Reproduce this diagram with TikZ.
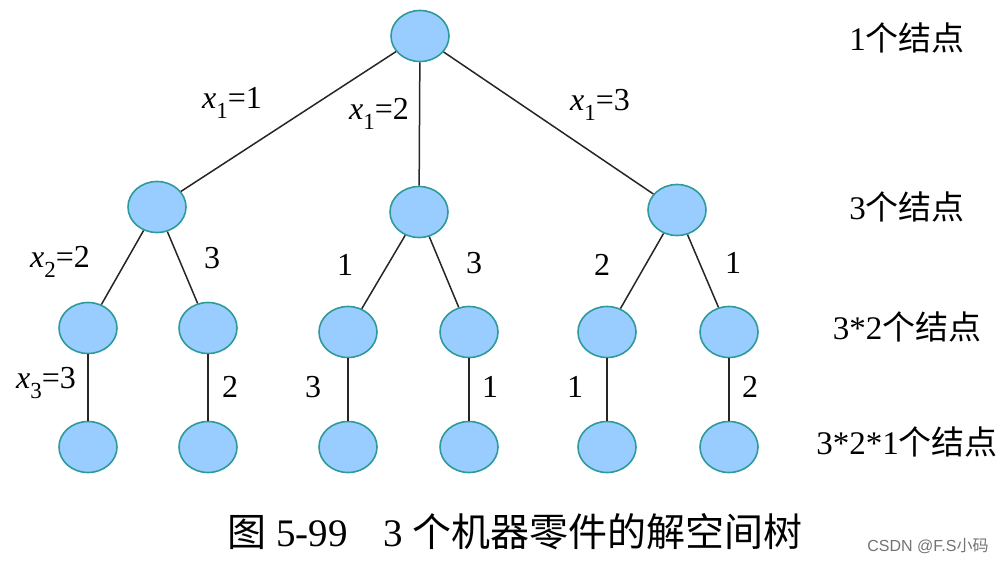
\documentclass[tikz,border=0pt]{standalone}
\usepackage{fontspec}
\setmainfont{Liberation Serif}
\newfontfamily\cjk{Noto Sans CJK SC}
\newfontfamily\wmfont{Liberation Sans}
\usetikzlibrary{shapes.geometric}
\newcommand{\xsub}[2]{\textit{x}\raisebox{-0.3em}{\fontsize{23}{23}\selectfont #1}#2}
\begin{document}
\begin{tikzpicture}[x=1pt,y=-1pt,
  tnode/.style={ellipse,line width=1.6pt,minimum width=58pt,minimum height=51pt,inner sep=0pt},
  edge/.style={draw=black!85,line width=1.5pt},
  lbl/.style={font=\fontsize{32}{34}\selectfont,inner sep=0pt},
  side/.style={font=\fontsize{33}{36}\selectfont,inner sep=0pt}]
\definecolor{nodefill}{HTML}{99CCFF}
\definecolor{nodeborder}{HTML}{2F9A9A}
\tikzset{tnode/.append style={fill=nodefill,draw=nodeborder}}
\useasboundingbox (0,0) rectangle (1008,562);
% nodes
\node[tnode] (r) at (420,36) {};
\node[tnode] (a) at (157,207) {};
\node[tnode] (b) at (419,212) {};
\node[tnode] (c) at (677,210) {};
\node[tnode] (a1) at (88,328) {};
\node[tnode] (a2) at (208,328) {};
\node[tnode] (b1) at (348,332) {};
\node[tnode] (b2) at (469,332) {};
\node[tnode] (c1) at (607,332) {};
\node[tnode] (c2) at (729,332) {};
\node[tnode] (a1x) at (88,447) {};
\node[tnode] (a2x) at (208,447) {};
\node[tnode] (b1x) at (348,447) {};
\node[tnode] (b2x) at (469,447) {};
\node[tnode] (c1x) at (607,447) {};
\node[tnode] (c2x) at (729,447) {};
% edges
\draw[edge] (r) -- (a);
\draw[edge] (r) -- (b);
\draw[edge] (r) -- (c);
\draw[edge] (a) -- (a1);
\draw[edge] (a) -- (a2);
\draw[edge] (b) -- (b1);
\draw[edge] (b) -- (b2);
\draw[edge] (c) -- (c1);
\draw[edge] (c) -- (c2);
\draw[edge] (a1) -- (a1x);
\draw[edge] (a2) -- (a2x);
\draw[edge] (b1) -- (b1x);
\draw[edge] (b2) -- (b2x);
\draw[edge] (c1) -- (c1x);
\draw[edge] (c2) -- (c2x);
% edge labels
\node[lbl] (l1) at (232,103) {\xsub{1}{=1}};
\node[lbl] (l2) at (379,114) {\xsub{1}{=2}};
\node[lbl] (l3) at (600,105) {\xsub{1}{=3}};
\node[lbl] (l4) at (60,262) {\xsub{2}{=2}};
\node[lbl] (l5) at (212,258) {3};
\node[lbl] (l6) at (345,265) {1};
\node[lbl] (l7) at (474,263) {3};
\node[lbl] (l8) at (602,265) {2};
\node[lbl] (l9) at (733,263) {1};
\node[lbl] (l10) at (46,383) {\xsub{3}{=3}};
\node[lbl] (l11) at (230,387) {2};
\node[lbl] (l12) at (313,387) {3};
\node[lbl] (l13) at (490,387) {1};
\node[lbl] (l14) at (575,387) {1};
\node[lbl] (l15) at (750,387) {2};
% side labels
\node[side] (s1) at (907,38) {1{\cjk 个结点}};
\node[side] (s2) at (907,207) {3{\cjk 个结点}};
\node[side] (s3) at (907,327) {3*2{\cjk 个结点}};
\node[side] (s4) at (907,442) {3*2*1{\cjk 个结点}};
% caption
\node[font=\fontsize{39}{42}\selectfont,inner sep=0pt] (cap) at (515,532) {{\cjk 图} 5-99\hspace{0.9em}3 {\cjk 个机器零件的解空间树}};
\node[font=\fontsize{16}{18}\selectfont\wmfont,text=black!55,inner sep=0pt] (wm) at (928,546) {CSDN @F.S{\cjk 小码}};
\end{tikzpicture}
\end{document}
